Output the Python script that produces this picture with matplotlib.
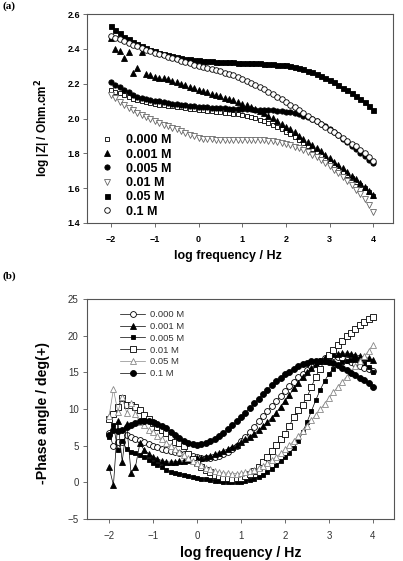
import numpy as np
import matplotlib
matplotlib.use('Agg')
import matplotlib.pyplot as plt

plt.rcParams['font.family'] = ['Liberation Sans', 'DejaVu Sans']

# log frequency sweep, 10 points per decade
log_f = np.round(np.arange(-2.0, 4.05, 0.1), 1)
conc = ['0.000 M', '0.001 M', '0.005 M', '0.01 M', '0.05 M', '0.1 M']

# (a) log |Z| values
z_000 = [2.165, 2.155, 2.145, 2.133, 2.122, 2.113, 2.105, 2.098, 2.092, 2.087,
         2.083, 2.079, 2.076, 2.073, 2.070, 2.067, 2.064, 2.060, 2.057, 2.053,
         2.050, 2.047, 2.044, 2.042, 2.039, 2.036, 2.034, 2.031, 2.028, 2.024,
         2.020, 2.015, 2.009, 2.002, 1.994, 1.985, 1.975, 1.964, 1.952, 1.939,
         1.925, 1.910, 1.894, 1.877, 1.860, 1.842, 1.824, 1.806, 1.788, 1.770,
         1.751, 1.732, 1.713, 1.694, 1.675, 1.656, 1.637, 1.618, 1.599, 1.578, 1.553]
z_001 = [2.46, 2.40, 2.39, 2.345, 2.38, 2.26, 2.29, 2.38, 2.255, 2.25,
         2.24, 2.235, 2.23, 2.225, 2.215, 2.207, 2.198, 2.19, 2.182, 2.173,
         2.165, 2.158, 2.15, 2.143, 2.136, 2.128, 2.12, 2.112, 2.104, 2.095,
         2.086, 2.077, 2.067, 2.056, 2.044, 2.031, 2.017, 2.002, 1.986, 1.97,
         1.954, 1.937, 1.92, 1.902, 1.884, 1.866, 1.848, 1.83, 1.811, 1.792,
         1.773, 1.753, 1.733, 1.713, 1.692, 1.671, 1.65, 1.628, 1.606, 1.583, 1.56]
z_005 = [2.21, 2.195, 2.18, 2.165, 2.15, 2.135, 2.125, 2.118, 2.112, 2.107,
         2.102, 2.098, 2.094, 2.09, 2.086, 2.082, 2.079, 2.076, 2.073, 2.07,
         2.068, 2.066, 2.064, 2.062, 2.06, 2.059, 2.058, 2.057, 2.056, 2.055,
         2.054, 2.053, 2.052, 2.051, 2.05, 2.049, 2.048, 2.047, 2.045, 2.043,
         2.04, 2.036, 2.031, 2.025, 2.017, 2.008, 1.997, 1.985, 1.971, 1.956,
         1.94, 1.922, 1.903, 1.884, 1.864, 1.844, 1.824, 1.804, 1.784, 1.764, 1.745]
z_01 = [2.135, 2.115, 2.095, 2.078, 2.062, 2.048, 2.034, 2.021, 2.009, 1.997,
        1.986, 1.975, 1.965, 1.955, 1.946, 1.937, 1.928, 1.918, 1.907, 1.897,
        1.89, 1.885, 1.882, 1.88, 1.879, 1.878, 1.878, 1.878, 1.878, 1.878,
        1.878, 1.878, 1.878, 1.877, 1.876, 1.874, 1.872, 1.869, 1.865, 1.86,
        1.854, 1.847, 1.838, 1.828, 1.817, 1.805, 1.792, 1.778, 1.762, 1.745,
        1.727, 1.707, 1.686, 1.664, 1.641, 1.617, 1.592, 1.566, 1.538, 1.503, 1.465]
z_05 = [2.53, 2.51, 2.49, 2.47, 2.455, 2.44, 2.43, 2.415, 2.405, 2.395,
        2.385, 2.377, 2.37, 2.363, 2.357, 2.352, 2.347, 2.343, 2.34, 2.337,
        2.334, 2.332, 2.33, 2.328, 2.326, 2.325, 2.324, 2.323, 2.322, 2.321,
        2.32, 2.319, 2.318, 2.317, 2.316, 2.315, 2.313, 2.311, 2.309, 2.307,
        2.305, 2.3, 2.295, 2.29, 2.283, 2.275, 2.265, 2.255, 2.243, 2.232,
        2.22, 2.207, 2.193, 2.178, 2.163, 2.147, 2.13, 2.112, 2.093, 2.073, 2.05]
z_1 = [2.475, 2.465, 2.455, 2.445, 2.435, 2.425, 2.415, 2.405, 2.395, 2.385,
       2.377, 2.37, 2.362, 2.355, 2.347, 2.34, 2.332, 2.325, 2.318, 2.31,
       2.303, 2.297, 2.29, 2.283, 2.276, 2.27, 2.262, 2.255, 2.247, 2.238,
       2.228, 2.218, 2.206, 2.194, 2.181, 2.168, 2.155, 2.14, 2.125, 2.11,
       2.095, 2.08, 2.064, 2.048, 2.032, 2.016, 2.0, 1.984, 1.968, 1.952,
       1.936, 1.92, 1.904, 1.888, 1.872, 1.856, 1.84, 1.82, 1.80, 1.78, 1.755]

# (b) -phase angle values
p_000 = [6.7, 4.9, 5.5, 5.5, 6.4, 6.2, 5.9, 5.8, 5.5, 5.2,
         4.9, 4.75, 4.6, 4.45, 4.3, 4.15, 4.0, 3.85, 3.7, 3.55,
         3.45, 3.35, 3.3, 3.3, 3.4, 3.55, 3.8, 4.1, 4.5, 5.0,
         5.6, 6.2, 6.9, 7.6, 8.3, 9.0, 9.7, 10.4, 11.1, 11.8,
         12.5, 13.1, 13.7, 14.3, 14.8, 15.3, 15.8, 16.2, 16.6, 16.9,
         17.1, 17.2, 17.1, 16.9, 16.7, 16.4, 16.1, 15.9, 15.6, 15.4, 15.2]
p_001 = [2.1, -0.4, 8.3, 2.8, 7.9, 1.3, 2.1, 5.3, 4.4, 3.9,
         3.5, 3.2, 2.95, 2.8, 2.75, 2.8, 2.85, 2.95, 3.05, 3.15,
         3.25, 3.35, 3.5, 3.65, 3.85, 4.05, 4.3, 4.55, 4.85, 5.15,
         5.5, 5.85, 6.2, 6.6, 7.1, 7.7, 8.2, 8.8, 9.5, 10.3,
         11.1, 11.9, 12.8, 13.6, 14.35, 15.0, 15.6, 16.1, 16.6, 17.0,
         17.3, 17.45, 17.55, 17.6, 17.6, 17.5, 17.4, 17.25, 17.1, 16.9, 16.7]
p_005 = [6.2, 7.8, 4.4, 5.7, 4.5, 4.2, 4.0, 3.7, 3.4, 3.1,
         2.7, 2.4, 2.1, 1.7, 1.45, 1.3, 1.15, 1.0, 0.85, 0.72,
         0.6, 0.5, 0.4, 0.3, 0.2, 0.12, 0.05, 0.0, -0.02, 0.0,
         0.05, 0.15, 0.3, 0.5, 0.75, 1.05, 1.4, 1.8, 2.3, 2.85,
         3.4, 4.0, 4.7, 5.6, 6.8, 8.2, 9.7, 11.2, 12.6, 13.8,
         14.8, 15.5, 16.0, 16.4, 16.6, 16.7, 16.7, 16.5, 16.2, 15.7, 15.1]
p_01 = [8.6, 9.3, 10.3, 11.5, 10.6, 10.5, 10.3, 9.9, 9.2, 8.6,
        8.1, 7.6, 7.2, 6.7, 6.2, 5.5, 5.3, 4.9, 3.9, 3.2,
        2.6, 2.1, 1.7, 1.35, 1.05, 0.8, 0.65, 0.55, 0.5, 0.55,
        0.65, 0.9, 1.2, 1.6, 2.1, 2.8, 3.5, 4.3, 5.1, 5.9,
        6.6, 7.7, 8.9, 9.8, 10.6, 11.6, 13.0, 14.4, 15.5, 16.5,
        17.3, 18.0, 18.7, 19.3, 19.9, 20.4, 20.9, 21.4, 21.9, 22.3, 22.6]
p_05 = [9.0, 12.7, 9.6, 11.6, 9.5, 10.8, 9.3, 8.2, 7.8, 7.2,
        6.8, 6.3, 5.9, 5.4, 5.0, 4.5, 4.1, 3.7, 3.3, 2.9,
        2.6, 2.3, 2.0, 1.75, 1.55, 1.4, 1.3, 1.25, 1.2, 1.2,
        1.25, 1.35, 1.5, 1.7, 1.95, 2.25, 2.6, 3.0, 3.45, 3.95,
        4.5, 5.05, 5.65, 6.3, 7.0, 7.7, 8.45, 9.2, 9.95, 10.7,
        11.5, 12.3, 13.0, 13.7, 14.4, 15.1, 15.8, 16.5, 17.2, 17.9, 18.7]
p_1 = [6.5, 7.2, 7.0, 7.2, 7.5, 7.8, 8.1, 8.35, 8.4, 8.35,
       8.2, 8.0, 7.7, 7.35, 6.9, 6.4, 6.0, 5.6, 5.35, 5.2,
       5.15, 5.2, 5.35, 5.6, 5.9, 6.3, 6.75, 7.25, 7.75, 8.3,
       8.9, 9.5, 10.1, 10.75, 11.4, 12.0, 12.6, 13.2, 13.75, 14.25,
       14.7, 15.1, 15.5, 15.8, 16.1, 16.3, 16.5, 16.6, 16.6, 16.55,
       16.4, 16.2, 15.95, 15.65, 15.3, 14.95, 14.6, 14.25, 13.9, 13.5, 13.0]

spine_col = '#555555'

fig = plt.figure(figsize=(4.03, 5.61), dpi=100)

# ---------------- (a) impedance modulus ----------------
ax1 = fig.add_axes([0.216, 0.6025, 0.7593, 0.3725])
styles_a = [
    dict(marker='s', mfc='white', mec='black', ms=3.3),
    dict(marker='^', mfc='black', mec='black', ms=3.8),
    dict(marker='o', mfc='black', mec='black', ms=3.8),
    dict(marker='v', mfc='white', mec='#666666', ms=3.8),
    dict(marker='s', mfc='black', mec='black', ms=3.6),
    dict(marker='o', mfc='white', mec='black', ms=4.0),
]
for y, lab, st in zip([z_000, z_001, z_005, z_01, z_05, z_1], conc, styles_a):
    ax1.plot(log_f, y, ls='none', mew=0.6, label=lab, **st)

ax1.set_xlim(-2.55, 4.45)
ax1.set_ylim(1.4, 2.6)
ax1.set_xticks(range(-2, 5))
ax1.set_yticks(np.arange(1.4, 2.61, 0.2))
ax1.set_yticklabels(['%.1f' % v for v in np.arange(1.4, 2.61, 0.2)])
ax1.tick_params(direction='out', length=3, width=0.6, color=spine_col, labelsize=6.5)
ax1.tick_params(axis='x', pad=6)
ax1.tick_params(axis='y', pad=2)
for lab in ax1.get_xticklabels() + ax1.get_yticklabels():
    lab.set_fontweight('bold')
for s in ax1.spines.values():
    s.set_color(spine_col)
    s.set_linewidth(0.8)
ax1.set_xlabel('log frequency / Hz', fontsize=9, fontweight='bold')
ax1.xaxis.set_label_coords(0.459, -0.13)
ax1.set_ylabel('log |Z| / Ohm.cm$^{\\mathbf{2}}$', fontsize=8.5, fontweight='bold')
ax1.yaxis.set_label_coords(-0.11, 0.455)
ax1.legend(loc='lower left', bbox_to_anchor=(0.02, -0.01), frameon=False,
           prop={'weight': 'bold', 'size': 9}, handlelength=1.0,
           handletextpad=1.0, labelspacing=0.18, borderaxespad=0.2)

# ---------------- (b) phase angle ----------------
ax2 = fig.add_axes([0.216, 0.0749, 0.7618, 0.3922])
styles_b = [
    dict(marker='o', mfc='white', mec='black', color='black', ms=4.2),
    dict(marker='^', mfc='black', mec='black', color='black', ms=4.0),
    dict(marker='s', mfc='black', mec='black', color='black', ms=2.6),
    dict(marker='s', mfc='white', mec='black', color='black', ms=4.2),
    dict(marker='^', mfc='white', mec='#888888', color='#888888', ms=4.2),
    dict(marker='o', mfc='black', mec='black', color='black', ms=4.3),
]
for y, lab, st in zip([p_000, p_001, p_005, p_01, p_05, p_1], conc, styles_b):
    ax2.plot(log_f, y, lw=0.5, mew=0.6, label=lab, **st)

ax2.set_xlim(-2.5, 4.48)
ax2.set_ylim(-5, 25)
ax2.set_xticks(range(-2, 5))
ax2.set_yticks(range(-5, 26, 5))
ax2.tick_params(direction='out', length=3, width=0.6, color=spine_col,
                labelsize=7, labelcolor='#333333')
ax2.tick_params(axis='x', pad=6)
ax2.tick_params(axis='y', pad=3)
for s in ax2.spines.values():
    s.set_color(spine_col)
    s.set_linewidth(0.8)
ax2.set_xlabel('log frequency / Hz', fontsize=10.2, fontweight='bold')
ax2.xaxis.set_label_coords(0.501, -0.125)
ax2.set_ylabel('-Phase angle / deg(+)', fontsize=10.2, fontweight='bold')
ax2.yaxis.set_label_coords(-0.12, 0.482)
leg2 = ax2.legend(loc='upper left', bbox_to_anchor=(0.09, 0.975), frameon=False,
                  fontsize=6.8, handlelength=2.6, handletextpad=0.5,
                  labelspacing=0.3, borderaxespad=0.2)
for t in leg2.get_texts():
    t.set_color('#333333')

fig.text(0.005, 0.998, '(a)', family='Liberation Serif', fontweight='bold',
         fontsize=8, va='top', ha='left')
fig.text(0.005, 1 - 276 / 561, '(b)', family='Liberation Serif', fontweight='bold',
         fontsize=8, va='center', ha='left')

fig.savefig('out.png', dpi=100)
